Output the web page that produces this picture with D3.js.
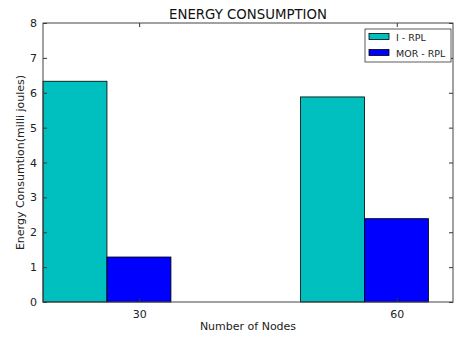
<!DOCTYPE html>
<html>
<head>
<meta charset="utf-8">
<script src="https://cdn.jsdelivr.net/npm/d3@7"></script>
<style>
  body { margin: 0; background: #fff; }
  svg { display: block; font-family: "DejaVu Sans", sans-serif; }
</style>
</head>
<body>
<div id="chart"></div>
<script>
// datos
const nodos = [30, 60];
const series = ["I - RPL", "MOR - RPL"];
const colores = ["#00bfbf", "#0000ff"];
const valoresIRPL = [6.33, 5.88];
const valoresMORRPL = [1.29, 2.39];
const ticksY = [0, 1, 2, 3, 4, 5, 6, 7, 8];

const ancho = 456, alto = 337;
const margen = { top: 23, right: 3, bottom: 35, left: 43 };

const anchoBarra = 7.45;
const desplazamientos = [-11.2, -11.2 + anchoBarra];

const $svg = d3.select("#chart").append("svg")
  .attr("width", ancho)
  .attr("height", alto);

const x = d3.scaleLinear()
  .domain([18.8, 66.55])
  .range([margen.left, ancho - margen.right]);

const y = d3.scaleLinear()
  .domain([0, 8])
  .range([alto - margen.bottom, margen.top]);

const valores = [valoresIRPL, valoresMORRPL];

// barras
series.forEach((s, i) => {
  $svg.append("g")
    .selectAll("rect")
    .data(nodos.map((n, j) => ({ n, v: valores[i][j] })))
    .join("rect")
    .attr("x", d => x(d.n + desplazamientos[i]))
    .attr("y", d => y(d.v))
    .attr("width", d => x(d.n + desplazamientos[i] + anchoBarra) - x(d.n + desplazamientos[i]))
    .attr("height", d => y(0) - y(d.v))
    .attr("fill", colores[i])
    .attr("stroke", "#000")
    .attr("stroke-width", 0.8);
});

// ejes con ticks hacia adentro
const ejeIzq = d3.axisLeft(y).tickValues(ticksY).tickSize(-4).tickPadding(6);
const ejeDer = d3.axisRight(y).tickValues(ticksY).tickSize(-4).tickFormat("");
const ejeAbajo = d3.axisBottom(x).tickValues(nodos).tickSize(-4).tickPadding(8);
const ejeArriba = d3.axisTop(x).tickValues(nodos).tickSize(-4).tickFormat("");

const estilo = g => {
  g.select(".domain").remove();
  g.selectAll("line").attr("stroke", "#333");
  g.selectAll("text").attr("font-size", 11).attr("fill", "#222")
    .attr("font-family", "DejaVu Sans, sans-serif");
};

$svg.append("g").attr("transform", `translate(${margen.left},0)`).call(ejeIzq).call(estilo);
$svg.append("g").attr("transform", `translate(${ancho - margen.right},0)`).call(ejeDer).call(estilo);
$svg.append("g").attr("transform", `translate(0,${alto - margen.bottom})`).call(ejeAbajo).call(estilo);
$svg.append("g").attr("transform", `translate(0,${margen.top})`).call(ejeArriba).call(estilo);

// marco
$svg.append("rect")
  .attr("x", margen.left)
  .attr("y", margen.top)
  .attr("width", ancho - margen.right - margen.left)
  .attr("height", alto - margen.bottom - margen.top)
  .attr("fill", "none")
  .attr("stroke", "#444")
  .attr("stroke-width", 1);

// titulo
$svg.append("text")
  .attr("x", (margen.left + ancho - margen.right) / 2)
  .attr("y", 19)
  .attr("text-anchor", "middle")
  .attr("font-size", 13.3)
  .attr("fill", "#111")
  .text("ENERGY CONSUMPTION");

// etiquetas
$svg.append("text")
  .attr("x", (margen.left + ancho - margen.right) / 2)
  .attr("y", 330)
  .attr("text-anchor", "middle")
  .attr("font-size", 11)
  .attr("fill", "#222")
  .text("Number of Nodes");

$svg.append("text")
  .attr("transform", `translate(24,${(margen.top + alto - margen.bottom) / 2}) rotate(-90)`)
  .attr("text-anchor", "middle")
  .attr("font-size", 11)
  .attr("fill", "#222")
  .text("Energy Consumtion(milli joules)");

// leyenda
const leyenda = $svg.append("g").attr("transform", "translate(365,29)");
leyenda.append("rect")
  .attr("width", 86).attr("height", 33)
  .attr("fill", "#fff").attr("stroke", "#333").attr("stroke-width", 0.8);
series.forEach((s, i) => {
  leyenda.append("rect")
    .attr("x", 4).attr("y", 4.5 + i * 16)
    .attr("width", 20).attr("height", 6)
    .attr("fill", colores[i]).attr("stroke", "#000").attr("stroke-width", 0.8);
  leyenda.append("text")
    .attr("x", 31).attr("y", 11.5 + i * 16)
    .attr("font-size", 9.5)
    .attr("fill", "#222")
    .text(s);
});
</script>
</body>
</html>
